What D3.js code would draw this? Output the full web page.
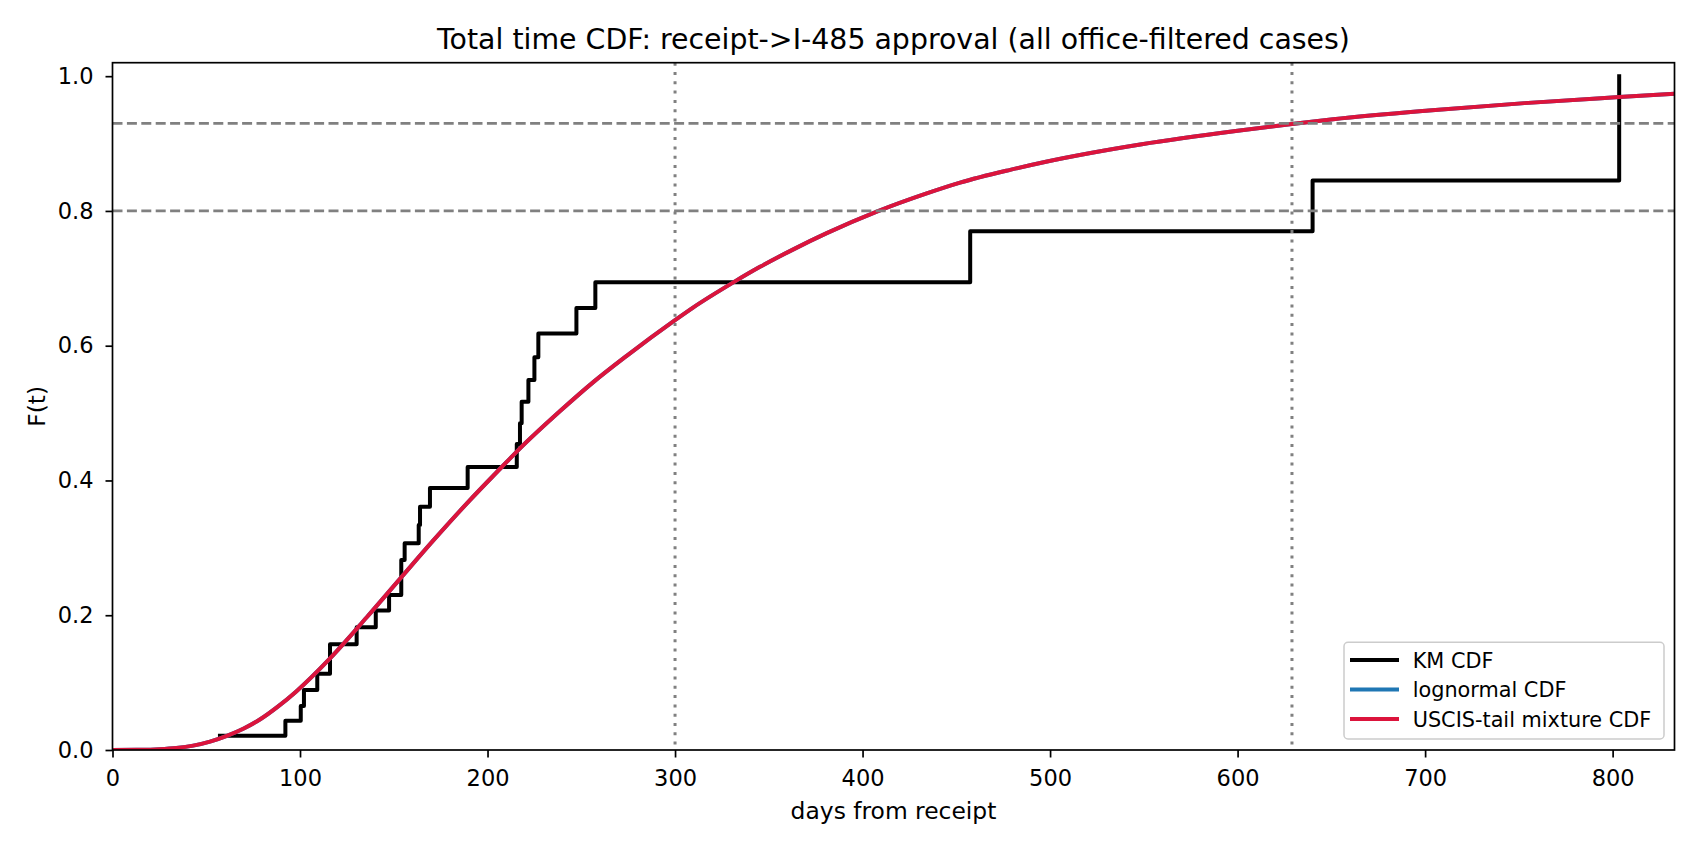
<!DOCTYPE html>
<html><head><meta charset="utf-8">
<script src="https://cdn.jsdelivr.net/npm/d3@7"></script>
<style>
body{margin:0;background:#fff}
svg{display:block}
text{font-family:"DejaVu Sans",sans-serif;fill:#000}
</style>
</head><body>
<svg id="chart" width="1700" height="850"></svg>
<script>
// ---- data ----
const kmDays = [57.3, 92.2, 100.4, 102.1, 109.2, 116.0, 130.2, 140.4, 147.5, 154.0, 155.8, 163.3, 164.0, 169.3, 189.4, 215.6, 217.3, 218.2, 221.8, 225.0, 227.1, 247.4, 257.5, 457.4, 640.0, 803.5];
const kmCdf  = [0.021, 0.0435, 0.0653, 0.089, 0.113, 0.157, 0.182, 0.207, 0.230, 0.282, 0.307, 0.334, 0.361, 0.389, 0.420, 0.454, 0.485, 0.517, 0.549, 0.583, 0.618, 0.656, 0.694, 0.770, 0.845, 1.0];

const fitDays = [0, 16, 25, 34, 43, 52, 61, 70, 79, 88, 98, 116, 135.6, 153.3, 171.1, 189, 207.6, 216, 238.7, 256.4, 274.2, 300, 309.8, 331.1, 345.3, 363.1, 380.9, 407.6, 434.2, 452, 478.7, 497.8, 548.9, 600, 629, 651, 702, 753, 803.5, 833];
const lognormalCdf = [0, 0.0003, 0.0012, 0.003, 0.0065, 0.0125, 0.021, 0.032, 0.046, 0.064, 0.087, 0.136, 0.197, 0.254, 0.311, 0.366, 0.420, 0.444, 0.503, 0.546, 0.585, 0.638, 0.657, 0.694, 0.717, 0.743, 0.767, 0.799, 0.826, 0.842, 0.861, 0.873, 0.899, 0.919, 0.929, 0.936, 0.949, 0.960, 0.969, 0.974];
const mixtureCdf   = [0, 0.0003, 0.0012, 0.003, 0.0065, 0.0125, 0.021, 0.032, 0.046, 0.064, 0.087, 0.136, 0.197, 0.254, 0.311, 0.366, 0.420, 0.444, 0.503, 0.546, 0.585, 0.638, 0.657, 0.694, 0.717, 0.743, 0.767, 0.799, 0.826, 0.842, 0.861, 0.873, 0.899, 0.919, 0.929, 0.936, 0.949, 0.960, 0.969, 0.974];

const refLevels = [0.8, 0.93];
const refDays = [300, 629];

const xTicks = [0, 100, 200, 300, 400, 500, 600, 700, 800];
const yTicks = [0.0, 0.2, 0.4, 0.6, 0.8, 1.0];
const xDomain = [0, 833];
const yDomain = [0, 1.02];

const legendLabels = ["KM CDF", "lognormal CDF", "USCIS-tail mixture CDF"];
const seriesColors = ["#000000", "#1f77b4", "#dc143c"];
const titleText = "Total time CDF: receipt->I-485 approval (all office-filtered cases)";
const xLabelText = "days from receipt";
const yLabelText = "F(t)";

// ---- layout ----
const svg = d3.select("#chart");
const P = {left: 112.5, right: 1674.5, top: 62.7, bottom: 750};
const x = d3.scaleLinear().domain(xDomain).range([P.left, P.right]);
const y = d3.scaleLinear().domain(yDomain).range([P.bottom, P.top]);

svg.append("rect").attr("width", 1700).attr("height", 850).attr("fill", "#fff");

svg.append("defs").append("clipPath").attr("id", "plotclip")
  .append("rect").attr("x", P.left).attr("y", P.top)
  .attr("width", P.right - P.left).attr("height", P.bottom - P.top);

const plot = svg.append("g").attr("clip-path", "url(#plotclip)");

// KM step line
const kmPts = kmDays.map((d, i) => [d, kmCdf[i]]);
plot.append("path")
  .attr("d", d3.line().x(d => x(d[0])).y(d => y(d[1])).curve(d3.curveStepAfter)(kmPts))
  .attr("fill", "none").attr("stroke", seriesColors[0]).attr("stroke-width", 4)
  .attr("stroke-linejoin", "round").attr("stroke-linecap", "square");

const smooth = d3.line().x(d => x(d[0])).y(d => y(d[1])).curve(d3.curveMonotoneX);
plot.append("path")
  .attr("d", smooth(fitDays.map((d, i) => [d, lognormalCdf[i]])))
  .attr("fill", "none").attr("stroke", seriesColors[1]).attr("stroke-width", 4)
  .attr("stroke-linejoin", "round");
plot.append("path")
  .attr("d", smooth(fitDays.map((d, i) => [d, mixtureCdf[i]])))
  .attr("fill", "none").attr("stroke", seriesColors[2]).attr("stroke-width", 4)
  .attr("stroke-linejoin", "round");

// reference lines
plot.selectAll("line.href").data(refLevels).join("line").attr("class", "href")
  .attr("x1", P.left).attr("x2", P.right)
  .attr("y1", d => y(d)).attr("y2", d => y(d))
  .attr("stroke", "#808080").attr("stroke-width", 2.7).attr("stroke-dasharray", "10 4.4");
plot.selectAll("line.vref").data(refDays).join("line").attr("class", "vref")
  .attr("x1", d => x(d)).attr("x2", d => x(d))
  .attr("y1", P.top).attr("y2", P.bottom)
  .attr("stroke", "#808080").attr("stroke-width", 3).attr("stroke-dasharray", "3 6.3");

// axes
const xAxis = svg.append("g").attr("transform", `translate(0,${P.bottom})`)
  .call(d3.axisBottom(x).tickValues(xTicks).tickFormat(d3.format("d")).tickSize(7.5).tickPadding(12.3));
const yAxis = svg.append("g").attr("transform", `translate(${P.left},0)`)
  .call(d3.axisLeft(y).tickValues(yTicks).tickFormat(d3.format(".1f")).tickSize(7).tickPadding(12));
[xAxis, yAxis].forEach(g => {
  g.select(".domain").remove();
  g.selectAll(".tick line").attr("stroke", "#000").attr("stroke-width", 1.7);
  g.selectAll(".tick text").attr("font-size", "22.5px").attr("font-family", "DejaVu Sans").attr("fill", "#000");
});

// frame
svg.append("rect").attr("x", P.left).attr("y", P.top)
  .attr("width", P.right - P.left).attr("height", P.bottom - P.top)
  .attr("fill", "none").attr("stroke", "#000").attr("stroke-width", 1.7);

// title & labels
svg.append("text").attr("x", (P.left + P.right) / 2).attr("y", 48.5)
  .attr("text-anchor", "middle").attr("font-size", "28.4px").text(titleText);
svg.append("text").attr("x", (P.left + P.right) / 2).attr("y", 819)
  .attr("text-anchor", "middle").attr("font-size", "23.4px").text(xLabelText);
svg.append("text").attr("transform", `translate(45,${(P.top + P.bottom) / 2}) rotate(-90)`)
  .attr("text-anchor", "middle").attr("font-size", "23.4px").text(yLabelText);

// legend
const lg = svg.append("g");
lg.append("rect").attr("x", 1344).attr("y", 642.3).attr("width", 320).attr("height", 96.7)
  .attr("rx", 4).attr("fill", "#fff").attr("fill-opacity", 0.8)
  .attr("stroke", "#cccccc").attr("stroke-width", 1.5);
const rows = lg.selectAll("g.row").data(legendLabels).join("g").attr("class", "row")
  .attr("transform", (d, i) => `translate(0,${660 + i * 29.5})`);
rows.append("line").attr("x1", 1352).attr("x2", 1397).attr("y1", 0).attr("y2", 0)
  .attr("stroke", (d, i) => seriesColors[i]).attr("stroke-width", 4).attr("stroke-linecap", "square");
rows.append("text").attr("x", 1412.7).attr("y", 7.5).attr("font-size", "20.8px").text(d => d);
</script>
</body></html>
